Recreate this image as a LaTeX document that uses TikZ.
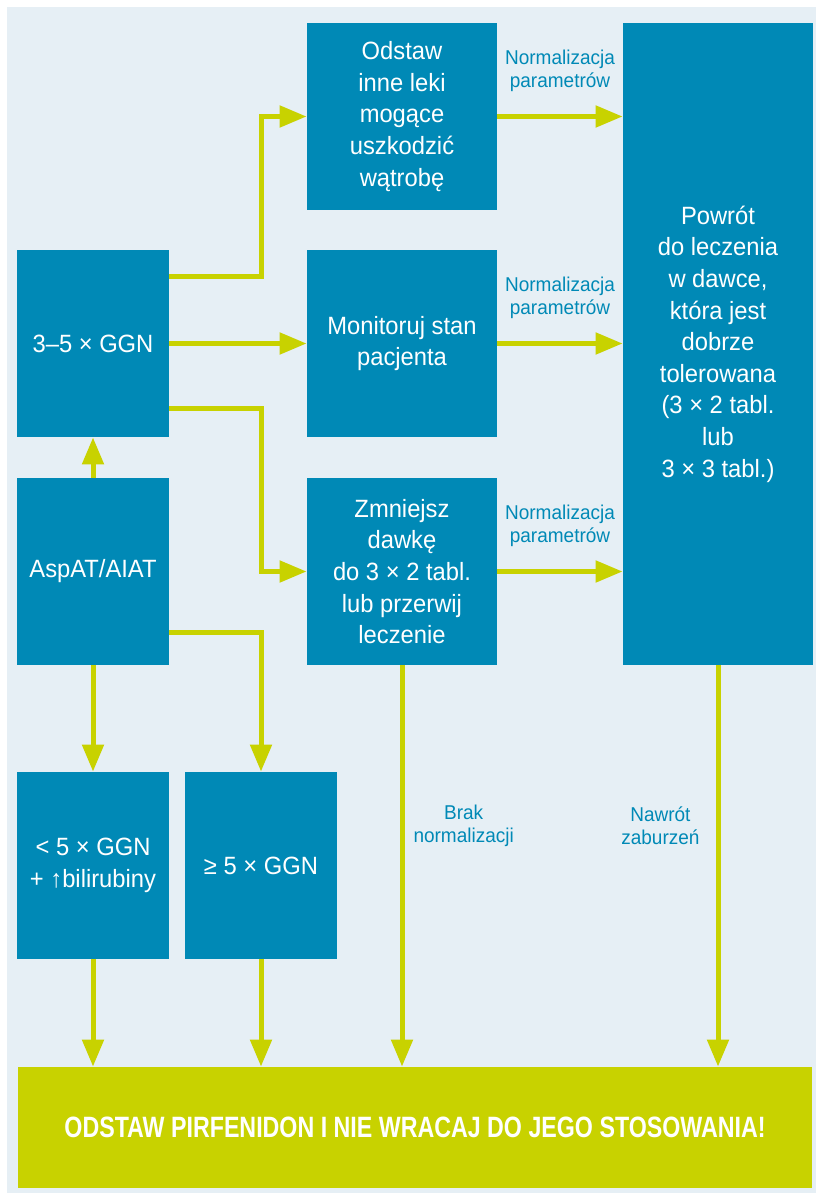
\documentclass[tikz,border=0pt]{standalone}
\usepackage{fontspec}
\setmainfont{Liberation Sans}[FakeStretch=0.95]
\newfontfamily\bannerfont{Liberation Sans}[FakeStretch=0.79]
\usepackage{xcolor}
\usetikzlibrary{arrows.meta, calc}

\definecolor{boxblue}{HTML}{0089B6}
\definecolor{bgblue}{HTML}{E6EFF5}
\definecolor{lime}{HTML}{C8D200}

\begin{document}
\begin{tikzpicture}[x=0.5pt, y=-0.5pt,
    box/.style={fill=boxblue, text=white, align=center, minimum width=95pt, minimum height=93.5pt, inner sep=2pt, font=\fontsize{12.5}{15.8}\selectfont},
    narrow/.style={box, minimum width=76pt},
    banner/.style={fill=lime, text=white, minimum width=397pt, minimum height=60.5pt, font=\bannerfont\bfseries\fontsize{14.7}{17}\selectfont},
    lbl/.style={text=boxblue, align=center, inner sep=1pt, font=\fontsize{10}{11.5}\selectfont},
    arr/.style={draw=lime, line width=2.5pt, -{Triangle[length=13.5pt, width=10.5pt]}}]
\useasboundingbox (0,0) rectangle (816,1193);
\fill[bgblue] (7,7) rectangle (816,1193);
% Boxes
\node[box] (odstaw) at (402,116.5) {Odstaw\\inne leki\\mogące\\uszkodzić\\wątrobę};
\node[box, minimum height=321pt] (powrot) at (718,344) {Powrót\\do leczenia\\w dawce,\\która jest\\dobrze\\tolerowana\\(3 × 2 tabl.\\lub\\3 × 3 tabl.)};
\node[narrow] (ggn) at (93,343.5) {3–5 × GGN};
\node[box] (monitor) at (402,343.5) {Monitoruj stan\\pacjenta};
\node[narrow] (asp) at (93,571.5) {AspAT/AIAT};
\node[box] (zmniejsz) at (402,571.5) {Zmniejsz\\dawkę\\do 3 × 2 tabl.\\lub przerwij\\leczenie};
\node[narrow] (lt5) at (93,865.5) {< 5 × GGN\\+ ↑bilirubiny};
\node[narrow] (ge5) at (261,865.5) {≥ 5 × GGN};
\node[banner] (stop) at (415,1127.5) {ODSTAW PIRFENIDON I NIE WRACAJ DO JEGO STOSOWANIA!};
% From 3-5 x GGN
\draw[arr] ([yshift=-13.5pt]ggn.north east) -- ([yshift=-13.5pt]ggn.north east -| ge5) |- (odstaw);
\draw[arr] (ggn) -- (monitor);
\draw[arr] ([yshift=14.5pt]ggn.south east) -- ([yshift=14.5pt]ggn.south east -| ge5) |- (zmniejsz);
% Back to treatment
\draw[arr] (odstaw) -- (odstaw -| powrot.west) node[lbl, midway, above=10pt] {Normalizacja\\parametrów};
\draw[arr] (monitor) -- (monitor -| powrot.west) node[lbl, midway, above=10pt] {Normalizacja\\parametrów};
\draw[arr] (zmniejsz) -- (zmniejsz -| powrot.west) node[lbl, midway, above=10pt] {Normalizacja\\parametrów};
% From AspAT/AIAT
\draw[arr] (asp) -- (ggn);
\draw[arr] (asp) -- (lt5);
\draw[arr] ([yshift=16.5pt]asp.south east) -| (ge5);
% Down to stop
\draw[arr] (lt5) -- (lt5 |- stop.north);
\draw[arr] (ge5) -- (ge5 |- stop.north);
\draw[arr] (zmniejsz) -- (zmniejsz |- stop.north) node[lbl, pos=0.4, right=3.5pt] {Brak\\normalizacji};
\draw[arr] (powrot) -- (powrot |- stop.north) node[lbl, pos=0.4, left=7pt] {Nawrót\\zaburzeń};
\end{tikzpicture}
\end{document}
